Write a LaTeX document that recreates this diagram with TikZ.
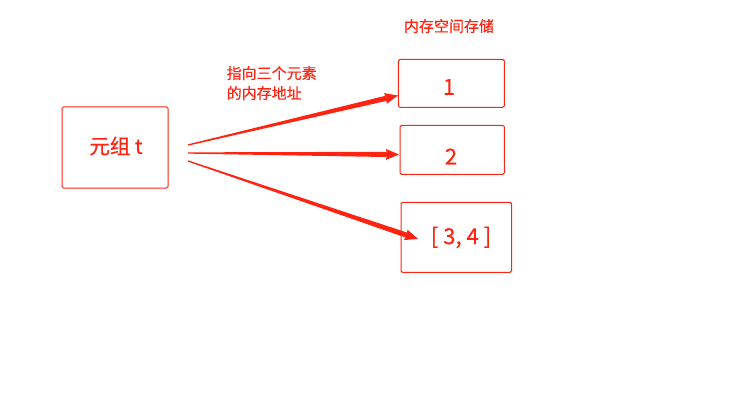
\documentclass[tikz,border=0pt]{standalone}
\usepackage{fontspec}
\setmainfont[FakeBold=0.4,AutoFakeBold=0.4]{Noto Sans CJK SC}
\usetikzlibrary{calc}
\definecolor{myred}{RGB}{255,36,18}
\tikzset{
  box/.style={draw=myred, line width=1pt, rounded corners=1.5pt},
  lbl/.style={text=myred, inner sep=0pt},
}
\newcommand\taperarrow[2]{%
  \coordinate (hb) at ($(#2)!13pt!(#1)$);
  \fill[myred] ($(#1)!0.65pt!90:(#2)$) -- ($(hb)!2.6pt!-90:(#1)$) -- ($(hb)!1pt!(#2)$) -- ($(hb)!5.5pt!-90:(#1)$) -- (#2) -- ($(hb)!5.5pt!90:(#1)$) -- ($(hb)!1pt!(#2)$) -- ($(hb)!2.6pt!90:(#1)$) -- ($(#1)!0.65pt!-90:(#2)$) -- cycle;
}
\begin{document}
\begin{tikzpicture}[x=1pt,y=-1pt]
\useasboundingbox (0,0) rectangle (748,420);
% boxes
\draw[box] (62,107) rectangle (168,188);
\draw[box] (398.3,59.5) rectangle (504.3,107.3);
\draw[box] (400,125.3) rectangle (504.3,174.3);
\draw[box] (401,202.3) rectangle (511.5,272.3);
% texts
\node[lbl, font=\fontsize{20.5pt}{22pt}\selectfont\bfseries] (tupt) at (116,146) {元组 t};
\node[lbl, font=\fontsize{22pt}{22pt}\selectfont\bfseries] (e1t) at (449,87) {1};
\node[lbl, font=\fontsize{22pt}{22pt}\selectfont\bfseries] (e2t) at (451,156.5) {2};
\node[lbl, font=\fontsize{22pt}{22pt}\selectfont\bfseries] (e3t) at (461,237.5) {[ 3, 4 ]};
\node[lbl, font=\fontsize{15pt}{20pt}\selectfont\bfseries, align=left, anchor=north west] (note) at (226.5,66) {指向三个元素\\的内存地址};
\node[lbl, font=\fontsize{15pt}{18pt}\selectfont\bfseries] (mem) at (449,26) {内存空间存储};
% arrow endpoints
\coordinate (s1) at (188,145);
\coordinate (s2) at (188,153);
\coordinate (s3) at (188,161);
\coordinate (t1) at (398,95.5);
\coordinate (t2) at (399,154.5);
\coordinate (t3) at (418,239);
\taperarrow{s1}{t1}
\taperarrow{s2}{t2}
\taperarrow{s3}{t3}
\end{tikzpicture}
\end{document}
